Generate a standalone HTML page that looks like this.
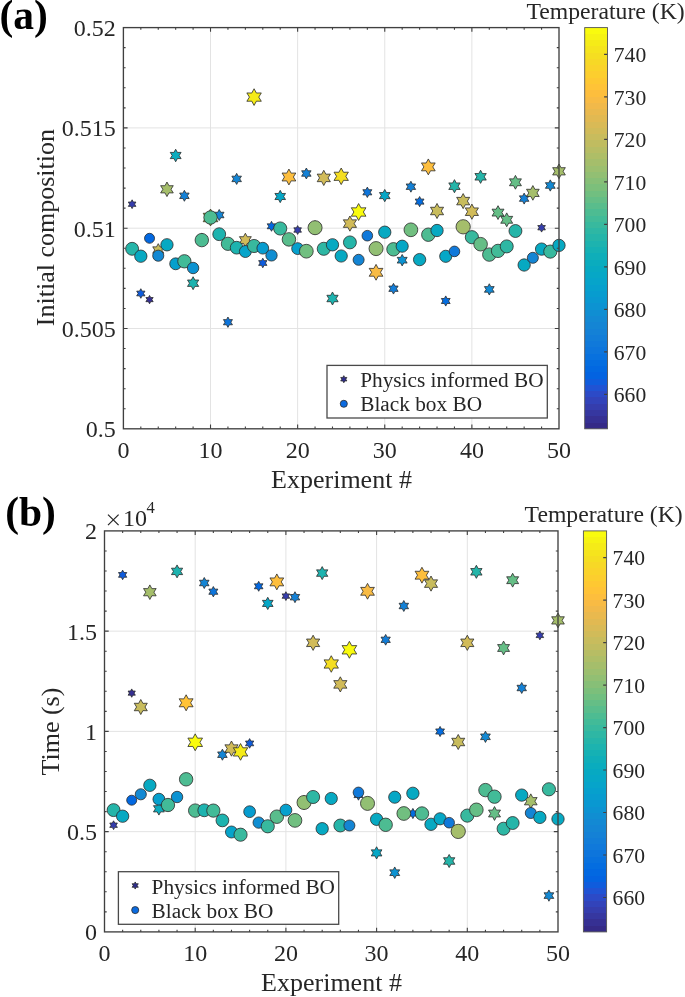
<!DOCTYPE html>
<html><head><meta charset="utf-8"><style>
html,body{margin:0;padding:0;background:#fff;}
svg{display:block;will-change:transform;font-family:"Liberation Serif",serif;fill:#262626;}
text{fill:#262626;}
.g{stroke:#e3e3e3;stroke-width:1;}
.ax{fill:none;stroke:#404040;stroke-width:1.35;}
.tk{fill:none;stroke:#404040;stroke-width:1.1;}
.cb{fill:none;stroke:#555;stroke-width:0.9;}
.lg{fill:#fff;stroke:#4a4a4a;stroke-width:1.3;}
path,circle{stroke:#2b2b2b;stroke-width:0.8;}
.tl{font-size:24px;}
.cl{font-size:21.6px;}
.lt{font-size:21.3px;}
.al{font-size:26px;}
.ct{font-size:23.7px;}
.pl{font-size:41.5px;font-weight:bold;fill:#000;}
</style></head><body>
<svg width="685" height="997" viewBox="0 0 685 997">
<line x1="210.52" y1="27.60" x2="210.52" y2="428.80" class="g"/>
<line x1="297.64" y1="27.60" x2="297.64" y2="428.80" class="g"/>
<line x1="384.76" y1="27.60" x2="384.76" y2="428.80" class="g"/>
<line x1="471.88" y1="27.60" x2="471.88" y2="428.80" class="g"/>
<line x1="123.40" y1="328.50" x2="559.00" y2="328.50" class="g"/>
<line x1="123.40" y1="228.20" x2="559.00" y2="228.20" class="g"/>
<line x1="123.40" y1="127.90" x2="559.00" y2="127.90" class="g"/>
<path d="M132.11 199.80 L133.34 202.07 L135.92 202.00 L134.58 204.20 L135.92 206.40 L133.34 206.33 L132.11 208.60 L130.88 206.33 L128.30 206.40 L129.65 204.20 L128.30 202.00 L130.88 202.07Z" fill="#353dad"/>
<path d="M140.82 288.71 L142.16 291.18 L144.97 291.11 L143.50 293.50 L144.97 295.89 L142.16 295.82 L140.82 298.29 L139.48 295.82 L136.68 295.89 L138.14 293.50 L136.68 291.11 L139.48 291.18Z" fill="#0f5cdd"/>
<path d="M149.54 295.41 L150.71 297.57 L153.17 297.50 L151.88 299.60 L153.17 301.70 L150.71 301.63 L149.54 303.79 L148.36 301.63 L145.90 301.70 L147.19 299.60 L145.90 297.50 L148.36 297.57Z" fill="#363093"/>
<path d="M158.25 243.65 L160.03 246.92 L163.75 246.82 L161.80 250.00 L163.75 253.18 L160.03 253.08 L158.25 256.35 L156.47 253.08 L152.75 253.18 L154.69 250.00 L152.75 246.82 L156.47 246.92Z" fill="#c8bc5d"/>
<path d="M166.96 182.01 L169.00 185.77 L173.27 185.66 L171.04 189.30 L173.27 192.94 L169.00 192.83 L166.96 196.59 L164.92 192.83 L160.65 192.94 L162.88 189.30 L160.65 185.66 L164.92 185.77Z" fill="#a5be6b"/>
<path d="M175.67 149.22 L177.43 152.45 L181.11 152.36 L179.19 155.50 L181.11 158.64 L177.43 158.55 L175.67 161.78 L173.91 158.55 L170.23 158.64 L172.15 155.50 L170.23 152.36 L173.91 152.45Z" fill="#0aacbe"/>
<path d="M184.38 190.32 L185.92 193.14 L189.13 193.06 L187.45 195.80 L189.13 198.54 L185.92 198.46 L184.38 201.28 L182.85 198.46 L179.64 198.54 L181.32 195.80 L179.64 193.06 L182.85 193.14Z" fill="#1481d6"/>
<path d="M193.10 276.73 L194.91 280.06 L198.70 279.97 L196.72 283.20 L198.70 286.43 L194.91 286.34 L193.10 289.67 L191.29 286.34 L187.50 286.43 L189.47 283.20 L187.50 279.97 L191.29 280.06Z" fill="#1db3af"/>
<path d="M201.81 233.15 L203.59 236.42 L207.31 236.32 L205.36 239.50 L207.31 242.68 L203.59 242.58 L201.81 245.85 L200.03 242.58 L196.31 242.68 L198.25 239.50 L196.31 236.32 L200.03 236.42Z" fill="#ffc337"/>
<path d="M210.52 209.05 L212.89 213.40 L217.84 213.27 L215.25 217.50 L217.84 221.73 L212.89 221.60 L210.52 225.95 L208.15 221.60 L203.20 221.73 L205.79 217.50 L203.20 213.27 L208.15 213.40Z" fill="#f9fb0e"/>
<path d="M219.23 209.47 L220.78 212.32 L224.02 212.23 L222.33 215.00 L224.02 217.77 L220.78 217.68 L219.23 220.53 L217.68 217.68 L214.44 217.77 L216.14 215.00 L214.44 212.23 L217.68 212.32Z" fill="#1485d4"/>
<path d="M227.94 317.00 L229.40 319.68 L232.45 319.60 L230.86 322.20 L232.45 324.80 L229.40 324.72 L227.94 327.40 L226.49 324.72 L223.44 324.80 L225.03 322.20 L223.44 319.60 L226.49 319.68Z" fill="#0d75dc"/>
<path d="M236.66 173.37 L238.20 176.22 L241.45 176.13 L239.75 178.90 L241.45 181.67 L238.20 181.58 L236.66 184.43 L235.11 181.58 L231.87 181.67 L233.56 178.90 L231.87 176.13 L235.11 176.22Z" fill="#1485d4"/>
<path d="M245.37 233.25 L247.29 236.78 L251.30 236.67 L249.20 240.10 L251.30 243.53 L247.29 243.42 L245.37 246.95 L243.45 243.42 L239.44 243.53 L241.53 240.10 L239.44 236.67 L243.45 236.78Z" fill="#d1bb59"/>
<path d="M254.08 88.75 L256.42 93.05 L261.31 92.93 L258.75 97.10 L261.31 101.27 L256.42 101.15 L254.08 105.45 L251.74 101.15 L246.85 101.27 L249.41 97.10 L246.85 92.93 L251.74 93.05Z" fill="#f5eb18"/>
<path d="M262.79 258.21 L264.13 260.68 L266.94 260.61 L265.47 263.00 L266.94 265.39 L264.13 265.32 L262.79 267.79 L261.45 265.32 L258.65 265.39 L260.11 263.00 L258.65 260.61 L261.45 260.68Z" fill="#0f5cdd"/>
<path d="M271.50 221.33 L272.89 223.89 L275.81 223.82 L274.29 226.30 L275.81 228.78 L272.89 228.71 L271.50 231.27 L270.11 228.71 L267.20 228.78 L268.72 226.30 L267.20 223.82 L270.11 223.89Z" fill="#0268e1"/>
<path d="M280.22 190.36 L281.93 193.52 L285.53 193.43 L283.65 196.50 L285.53 199.57 L281.93 199.48 L280.22 202.64 L278.50 199.48 L274.90 199.57 L276.78 196.50 L274.90 193.43 L278.50 193.52Z" fill="#06a7c6"/>
<path d="M288.93 169.05 L291.15 173.15 L295.81 173.03 L293.38 177.00 L295.81 180.97 L291.15 180.85 L288.93 184.95 L286.70 180.85 L282.05 180.97 L284.48 177.00 L282.05 173.03 L286.70 173.15Z" fill="#fdbe3d"/>
<path d="M297.64 225.60 L298.87 227.87 L301.45 227.80 L300.10 230.00 L301.45 232.20 L298.87 232.13 L297.64 234.40 L296.41 232.13 L293.83 232.20 L295.18 230.00 L293.83 227.80 L296.41 227.87Z" fill="#353dad"/>
<path d="M306.35 168.02 L307.89 170.84 L311.09 170.76 L309.42 173.50 L311.09 176.24 L307.89 176.16 L306.35 178.98 L304.82 176.16 L301.61 176.24 L303.29 173.50 L301.61 170.76 L304.82 170.84Z" fill="#1481d6"/>
<path d="M315.06 220.69 L317.00 224.25 L321.05 224.15 L318.93 227.60 L321.05 231.05 L317.00 230.95 L315.06 234.51 L313.13 230.95 L309.08 231.05 L311.19 227.60 L309.08 224.15 L313.13 224.25Z" fill="#65be86"/>
<path d="M323.78 170.30 L325.90 174.21 L330.36 174.10 L328.03 177.90 L330.36 181.70 L325.90 181.59 L323.78 185.50 L321.65 181.59 L317.19 181.70 L319.52 177.90 L317.19 174.10 L321.65 174.21Z" fill="#d1bb59"/>
<path d="M332.49 291.99 L334.31 295.34 L338.13 295.24 L336.14 298.50 L338.13 301.76 L334.31 301.66 L332.49 305.01 L330.66 301.66 L326.85 301.76 L328.84 298.50 L326.85 295.24 L330.66 295.34Z" fill="#1db3af"/>
<path d="M341.20 168.02 L343.52 172.29 L348.37 172.16 L345.83 176.30 L348.37 180.44 L343.52 180.31 L341.20 184.58 L338.88 180.31 L334.03 180.44 L336.57 176.30 L334.03 172.16 L338.88 172.29Z" fill="#f5de21"/>
<path d="M349.91 216.00 L352.04 219.91 L356.50 219.80 L354.17 223.60 L356.50 227.40 L352.04 227.29 L349.91 231.20 L347.78 227.29 L343.33 227.40 L345.65 223.60 L343.33 219.80 L347.78 219.91Z" fill="#d1bb59"/>
<path d="M358.62 203.55 L360.99 207.90 L365.94 207.77 L363.36 212.00 L365.94 216.23 L360.99 216.10 L358.62 220.45 L356.26 216.10 L351.30 216.23 L353.89 212.00 L351.30 207.77 L356.26 207.90Z" fill="#f9fb0e"/>
<path d="M367.34 187.10 L368.79 189.78 L371.84 189.70 L370.25 192.30 L371.84 194.90 L368.79 194.82 L367.34 197.50 L365.88 194.82 L362.83 194.90 L364.42 192.30 L362.83 189.70 L365.88 189.78Z" fill="#0d75dc"/>
<path d="M376.05 264.39 L378.26 268.46 L382.90 268.35 L380.48 272.30 L382.90 276.25 L378.26 276.14 L376.05 280.21 L373.83 276.14 L369.20 276.25 L371.62 272.30 L369.20 268.35 L373.83 268.46Z" fill="#f8bb44"/>
<path d="M384.76 189.46 L386.48 192.62 L390.08 192.53 L388.20 195.60 L390.08 198.67 L386.48 198.58 L384.76 201.74 L383.04 198.58 L379.44 198.67 L381.32 195.60 L379.44 192.53 L383.04 192.62Z" fill="#06a7c6"/>
<path d="M393.47 283.33 L394.97 286.10 L398.12 286.02 L396.48 288.70 L398.12 291.38 L394.97 291.30 L393.47 294.07 L391.97 291.30 L388.82 291.38 L390.47 288.70 L388.82 286.02 L391.97 286.10Z" fill="#127dd8"/>
<path d="M402.18 254.46 L403.79 257.42 L407.15 257.33 L405.40 260.20 L407.15 263.07 L403.79 262.98 L402.18 265.94 L400.58 262.98 L397.21 263.07 L398.97 260.20 L397.21 257.33 L400.58 257.42Z" fill="#0c93d2"/>
<path d="M410.90 181.22 L412.43 184.04 L415.64 183.96 L413.96 186.70 L415.64 189.44 L412.43 189.36 L410.90 192.18 L409.36 189.36 L406.15 189.44 L407.83 186.70 L406.15 183.96 L409.36 184.04Z" fill="#1481d6"/>
<path d="M419.61 196.52 L421.03 199.13 L424.01 199.06 L422.46 201.60 L424.01 204.14 L421.03 204.07 L419.61 206.68 L418.18 204.07 L415.20 204.14 L416.76 201.60 L415.20 199.06 L418.18 199.13Z" fill="#046de0"/>
<path d="M428.32 158.95 L430.55 163.05 L435.20 162.93 L432.77 166.90 L435.20 170.87 L430.55 170.75 L428.32 174.85 L426.09 170.75 L421.44 170.87 L423.87 166.90 L421.44 162.93 L426.09 163.05Z" fill="#fdbe3d"/>
<path d="M437.03 203.44 L439.15 207.33 L443.58 207.22 L441.27 211.00 L443.58 214.78 L439.15 214.67 L437.03 218.56 L434.91 214.67 L430.48 214.78 L432.80 211.00 L430.48 207.22 L434.91 207.33Z" fill="#c8bc5d"/>
<path d="M445.74 295.92 L447.17 298.53 L450.15 298.46 L448.59 301.00 L450.15 303.54 L447.17 303.47 L445.74 306.08 L444.32 303.47 L441.34 303.54 L442.90 301.00 L441.34 298.46 L444.32 298.53Z" fill="#046de0"/>
<path d="M454.46 179.64 L456.29 183.02 L460.14 182.92 L458.13 186.20 L460.14 189.48 L456.29 189.38 L454.46 192.76 L452.62 189.38 L448.78 189.48 L450.78 186.20 L448.78 182.92 L452.62 183.02Z" fill="#25b5a9"/>
<path d="M463.17 193.57 L465.28 197.45 L469.68 197.34 L467.38 201.10 L469.68 204.86 L465.28 204.75 L463.17 208.63 L461.06 204.75 L456.65 204.86 L458.95 201.10 L456.65 197.34 L461.06 197.45Z" fill="#c8bc5d"/>
<path d="M471.88 204.10 L474.01 208.01 L478.46 207.90 L476.14 211.70 L478.46 215.50 L474.01 215.39 L471.88 219.30 L469.75 215.39 L465.30 215.50 L467.62 211.70 L465.30 207.90 L469.75 208.01Z" fill="#d1bb59"/>
<path d="M480.59 170.24 L482.43 173.62 L486.27 173.52 L484.26 176.80 L486.27 180.08 L482.43 179.98 L480.59 183.36 L478.76 179.98 L474.91 180.08 L476.92 176.80 L474.91 173.52 L478.76 173.62Z" fill="#25b5a9"/>
<path d="M489.30 283.76 L490.88 286.67 L494.18 286.58 L492.46 289.40 L494.18 292.22 L490.88 292.13 L489.30 295.04 L487.73 292.13 L484.42 292.22 L486.15 289.40 L484.42 286.58 L487.73 286.67Z" fill="#1389d3"/>
<path d="M498.02 205.69 L499.95 209.25 L504.00 209.15 L501.89 212.60 L504.00 216.05 L499.95 215.95 L498.02 219.51 L496.08 215.95 L492.03 216.05 L494.15 212.60 L492.03 209.15 L496.08 209.25Z" fill="#65be86"/>
<path d="M506.73 212.89 L508.66 216.45 L512.71 216.35 L510.60 219.80 L512.71 223.25 L508.66 223.15 L506.73 226.71 L504.79 223.15 L500.74 223.25 L502.86 219.80 L500.74 216.35 L504.79 216.45Z" fill="#65be86"/>
<path d="M515.44 175.39 L517.37 178.95 L521.42 178.85 L519.31 182.30 L521.42 185.75 L517.37 185.65 L515.44 189.21 L513.51 185.65 L509.46 185.75 L511.57 182.30 L509.46 178.85 L513.51 178.95Z" fill="#65be86"/>
<path d="M524.15 193.12 L525.69 195.94 L528.89 195.86 L527.22 198.60 L528.89 201.34 L525.69 201.26 L524.15 204.08 L522.62 201.26 L519.41 201.34 L521.09 198.60 L519.41 195.86 L522.62 195.94Z" fill="#1481d6"/>
<path d="M532.86 185.57 L534.92 189.35 L539.21 189.24 L536.97 192.90 L539.21 196.56 L534.92 196.45 L532.86 200.23 L530.81 196.45 L526.52 196.56 L528.76 192.90 L526.52 189.24 L530.81 189.35Z" fill="#a5be6b"/>
<path d="M541.58 223.30 L542.81 225.57 L545.39 225.50 L544.04 227.70 L545.39 229.90 L542.81 229.83 L541.58 232.10 L540.34 229.83 L537.77 229.90 L539.11 227.70 L537.77 225.50 L540.34 225.57Z" fill="#353dad"/>
<path d="M550.29 179.86 L551.87 182.77 L555.17 182.68 L553.44 185.50 L555.17 188.32 L551.87 188.23 L550.29 191.14 L548.71 188.23 L545.41 188.32 L547.13 185.50 L545.41 182.68 L548.71 182.77Z" fill="#1389d3"/>
<path d="M559.00 163.97 L561.05 167.75 L565.34 167.64 L563.10 171.30 L565.34 174.96 L561.05 174.85 L559.00 178.63 L556.95 174.85 L552.66 174.96 L554.90 171.30 L552.66 167.64 L556.95 167.75Z" fill="#a5be6b"/>
<circle cx="132.11" cy="248.80" r="6.47" fill="#25b5a9"/>
<circle cx="140.82" cy="256.20" r="6.16" fill="#07a9c2"/>
<circle cx="149.54" cy="238.30" r="5.00" fill="#0268e1"/>
<circle cx="158.25" cy="255.70" r="5.56" fill="#1389d3"/>
<circle cx="166.96" cy="244.80" r="6.16" fill="#07a9c2"/>
<circle cx="175.67" cy="263.80" r="5.94" fill="#06a0cd"/>
<circle cx="184.38" cy="261.30" r="6.67" fill="#42bb98"/>
<circle cx="193.10" cy="268.00" r="5.71" fill="#0c93d2"/>
<circle cx="201.81" cy="240.10" r="6.72" fill="#4dbc92"/>
<circle cx="210.52" cy="217.50" r="6.72" fill="#4dbc92"/>
<circle cx="219.23" cy="234.20" r="6.42" fill="#1db3af"/>
<circle cx="227.94" cy="243.80" r="6.63" fill="#42bb98"/>
<circle cx="236.66" cy="247.70" r="6.38" fill="#1db3af"/>
<circle cx="245.37" cy="251.50" r="5.99" fill="#06a4ca"/>
<circle cx="254.08" cy="246.00" r="6.59" fill="#38b99e"/>
<circle cx="262.79" cy="248.20" r="5.89" fill="#079ccf"/>
<circle cx="271.50" cy="255.40" r="5.66" fill="#108ed2"/>
<circle cx="280.22" cy="228.50" r="6.59" fill="#38b99e"/>
<circle cx="288.93" cy="239.40" r="6.76" fill="#59bd8c"/>
<circle cx="297.64" cy="248.60" r="5.94" fill="#06a0cd"/>
<circle cx="306.35" cy="251.20" r="6.88" fill="#71bf80"/>
<circle cx="315.06" cy="227.70" r="7.03" fill="#92bf73"/>
<circle cx="323.78" cy="248.80" r="6.55" fill="#2eb7a4"/>
<circle cx="332.49" cy="244.80" r="6.16" fill="#07a9c2"/>
<circle cx="341.20" cy="256.00" r="6.12" fill="#07a9c2"/>
<circle cx="349.91" cy="242.40" r="6.47" fill="#25b5a9"/>
<circle cx="358.62" cy="259.80" r="5.51" fill="#1485d4"/>
<circle cx="367.34" cy="235.70" r="5.31" fill="#1079da"/>
<circle cx="376.05" cy="248.60" r="7.03" fill="#92bf73"/>
<circle cx="384.76" cy="232.20" r="6.16" fill="#07a9c2"/>
<circle cx="393.47" cy="249.30" r="6.72" fill="#4dbc92"/>
<circle cx="402.18" cy="246.20" r="6.08" fill="#06a7c6"/>
<circle cx="410.90" cy="229.80" r="6.88" fill="#71bf80"/>
<circle cx="419.61" cy="259.60" r="6.16" fill="#07a9c2"/>
<circle cx="428.32" cy="234.70" r="6.72" fill="#4dbc92"/>
<circle cx="437.03" cy="230.50" r="6.16" fill="#07a9c2"/>
<circle cx="445.74" cy="256.30" r="6.08" fill="#06a7c6"/>
<circle cx="454.46" cy="251.40" r="5.31" fill="#1079da"/>
<circle cx="463.17" cy="226.80" r="7.15" fill="#a5be6b"/>
<circle cx="471.88" cy="237.20" r="6.59" fill="#38b99e"/>
<circle cx="480.59" cy="244.20" r="6.80" fill="#65be86"/>
<circle cx="489.30" cy="254.60" r="6.72" fill="#4dbc92"/>
<circle cx="498.02" cy="250.90" r="6.67" fill="#42bb98"/>
<circle cx="506.73" cy="246.40" r="6.51" fill="#2eb7a4"/>
<circle cx="515.44" cy="231.00" r="6.47" fill="#25b5a9"/>
<circle cx="524.15" cy="265.00" r="6.16" fill="#07a9c2"/>
<circle cx="532.86" cy="257.80" r="5.51" fill="#1485d4"/>
<circle cx="541.58" cy="249.10" r="6.16" fill="#07a9c2"/>
<circle cx="550.29" cy="251.60" r="6.59" fill="#38b99e"/>
<circle cx="559.00" cy="245.40" r="6.16" fill="#07a9c2"/>
<path d="M140.82 428.80v-2.20 M140.82 27.60v2.20 M158.25 428.80v-2.20 M158.25 27.60v2.20 M175.67 428.80v-2.20 M175.67 27.60v2.20 M193.10 428.80v-2.20 M193.10 27.60v2.20 M210.52 428.80v-4.20 M210.52 27.60v4.20 M227.94 428.80v-2.20 M227.94 27.60v2.20 M245.37 428.80v-2.20 M245.37 27.60v2.20 M262.79 428.80v-2.20 M262.79 27.60v2.20 M280.22 428.80v-2.20 M280.22 27.60v2.20 M297.64 428.80v-4.20 M297.64 27.60v4.20 M315.06 428.80v-2.20 M315.06 27.60v2.20 M332.49 428.80v-2.20 M332.49 27.60v2.20 M349.91 428.80v-2.20 M349.91 27.60v2.20 M367.34 428.80v-2.20 M367.34 27.60v2.20 M384.76 428.80v-4.20 M384.76 27.60v4.20 M402.18 428.80v-2.20 M402.18 27.60v2.20 M419.61 428.80v-2.20 M419.61 27.60v2.20 M437.03 428.80v-2.20 M437.03 27.60v2.20 M454.46 428.80v-2.20 M454.46 27.60v2.20 M471.88 428.80v-4.20 M471.88 27.60v4.20 M489.30 428.80v-2.20 M489.30 27.60v2.20 M506.73 428.80v-2.20 M506.73 27.60v2.20 M524.15 428.80v-2.20 M524.15 27.60v2.20 M541.58 428.80v-2.20 M541.58 27.60v2.20 M123.40 408.74h2.20 M559.00 408.74h-2.20 M123.40 388.68h2.20 M559.00 388.68h-2.20 M123.40 368.62h2.20 M559.00 368.62h-2.20 M123.40 348.56h2.20 M559.00 348.56h-2.20 M123.40 328.50h4.20 M559.00 328.50h-4.20 M123.40 308.44h2.20 M559.00 308.44h-2.20 M123.40 288.38h2.20 M559.00 288.38h-2.20 M123.40 268.32h2.20 M559.00 268.32h-2.20 M123.40 248.26h2.20 M559.00 248.26h-2.20 M123.40 228.20h4.20 M559.00 228.20h-4.20 M123.40 208.14h2.20 M559.00 208.14h-2.20 M123.40 188.08h2.20 M559.00 188.08h-2.20 M123.40 168.02h2.20 M559.00 168.02h-2.20 M123.40 147.96h2.20 M559.00 147.96h-2.20 M123.40 127.90h4.20 M559.00 127.90h-4.20 M123.40 107.84h2.20 M559.00 107.84h-2.20 M123.40 87.78h2.20 M559.00 87.78h-2.20 M123.40 67.72h2.20 M559.00 67.72h-2.20 M123.40 47.66h2.20 M559.00 47.66h-2.20" class="tk"/>
<rect x="123.40" y="27.60" width="435.60" height="401.20" class="ax"/>
<text x="123.40" y="457.80" class="tl" text-anchor="middle">0</text>
<text x="210.52" y="457.80" class="tl" text-anchor="middle">10</text>
<text x="297.64" y="457.80" class="tl" text-anchor="middle">20</text>
<text x="384.76" y="457.80" class="tl" text-anchor="middle">30</text>
<text x="471.88" y="457.80" class="tl" text-anchor="middle">40</text>
<text x="559.00" y="457.80" class="tl" text-anchor="middle">50</text>
<text x="115.80" y="437.20" class="tl" text-anchor="end">0.5</text>
<text x="115.80" y="336.90" class="tl" text-anchor="end">0.505</text>
<text x="115.80" y="236.60" class="tl" text-anchor="end">0.51</text>
<text x="115.80" y="136.30" class="tl" text-anchor="end">0.515</text>
<text x="115.80" y="36.00" class="tl" text-anchor="end">0.52</text>
<line x1="195.20" y1="530.90" x2="195.20" y2="931.90" class="g"/>
<line x1="285.90" y1="530.90" x2="285.90" y2="931.90" class="g"/>
<line x1="376.60" y1="530.90" x2="376.60" y2="931.90" class="g"/>
<line x1="467.30" y1="530.90" x2="467.30" y2="931.90" class="g"/>
<line x1="104.50" y1="831.65" x2="558.00" y2="831.65" class="g"/>
<line x1="104.50" y1="731.40" x2="558.00" y2="731.40" class="g"/>
<line x1="104.50" y1="631.15" x2="558.00" y2="631.15" class="g"/>
<path d="M113.57 820.80 L114.80 823.07 L117.38 823.00 L116.03 825.20 L117.38 827.40 L114.80 827.33 L113.57 829.60 L112.34 827.33 L109.76 827.40 L111.11 825.20 L109.76 823.00 L112.34 823.07Z" fill="#353dad"/>
<path d="M122.64 570.11 L123.98 572.58 L126.78 572.51 L125.32 574.90 L126.78 577.29 L123.98 577.22 L122.64 579.69 L121.30 577.22 L118.50 577.29 L119.96 574.90 L118.50 572.51 L121.30 572.58Z" fill="#0f5cdd"/>
<path d="M131.71 688.91 L132.88 691.07 L135.34 691.00 L134.06 693.10 L135.34 695.20 L132.88 695.13 L131.71 697.29 L130.54 695.13 L128.08 695.20 L129.36 693.10 L128.08 691.00 L130.54 691.07Z" fill="#363093"/>
<path d="M140.78 699.47 L142.89 703.35 L147.30 703.24 L144.99 707.00 L147.30 710.76 L142.89 710.65 L140.78 714.53 L138.67 710.65 L134.26 710.76 L136.57 707.00 L134.26 703.24 L138.67 703.35Z" fill="#c8bc5d"/>
<path d="M149.85 584.91 L151.89 588.67 L156.16 588.56 L153.93 592.20 L156.16 595.84 L151.89 595.73 L149.85 599.49 L147.81 595.73 L143.54 595.84 L145.77 592.20 L143.54 588.56 L147.81 588.67Z" fill="#a5be6b"/>
<path d="M158.92 802.52 L160.68 805.75 L164.36 805.66 L162.44 808.80 L164.36 811.94 L160.68 811.85 L158.92 815.08 L157.16 811.85 L153.48 811.94 L155.40 808.80 L153.48 805.66 L157.16 805.75Z" fill="#0aacbe"/>
<path d="M167.99 799.52 L169.52 802.34 L172.73 802.26 L171.06 805.00 L172.73 807.74 L169.52 807.66 L167.99 810.48 L166.46 807.66 L163.25 807.74 L164.92 805.00 L163.25 802.26 L166.46 802.34Z" fill="#1481d6"/>
<path d="M177.06 564.93 L178.87 568.26 L182.66 568.17 L180.68 571.40 L182.66 574.63 L178.87 574.54 L177.06 577.87 L175.25 574.54 L171.46 574.63 L173.44 571.40 L171.46 568.17 L175.25 568.26Z" fill="#1db3af"/>
<path d="M186.13 694.78 L188.38 698.91 L193.08 698.79 L190.62 702.80 L193.08 706.81 L188.38 706.69 L186.13 710.82 L183.88 706.69 L179.18 706.81 L181.64 702.80 L179.18 698.79 L183.88 698.91Z" fill="#ffc337"/>
<path d="M195.20 733.85 L197.57 738.20 L202.52 738.07 L199.93 742.30 L202.52 746.53 L197.57 746.40 L195.20 750.75 L192.83 746.40 L187.88 746.53 L190.47 742.30 L187.88 738.07 L192.83 738.20Z" fill="#f9fb0e"/>
<path d="M204.27 577.47 L205.82 580.32 L209.06 580.23 L207.37 583.00 L209.06 585.77 L205.82 585.68 L204.27 588.53 L202.72 585.68 L199.48 585.77 L201.17 583.00 L199.48 580.23 L202.72 580.32Z" fill="#1485d4"/>
<path d="M213.34 586.50 L214.80 589.18 L217.84 589.10 L216.25 591.70 L217.84 594.30 L214.80 594.22 L213.34 596.90 L211.88 594.22 L208.84 594.30 L210.43 591.70 L208.84 589.10 L211.88 589.18Z" fill="#0d75dc"/>
<path d="M222.41 749.17 L223.96 752.02 L227.20 751.93 L225.51 754.70 L227.20 757.47 L223.96 757.38 L222.41 760.23 L220.86 757.38 L217.62 757.47 L219.31 754.70 L217.62 751.93 L220.86 752.02Z" fill="#1485d4"/>
<path d="M231.48 741.00 L233.61 744.91 L238.06 744.80 L235.74 748.60 L238.06 752.40 L233.61 752.29 L231.48 756.20 L229.35 752.29 L224.90 752.40 L227.22 748.60 L224.90 744.80 L229.35 744.91Z" fill="#d1bb59"/>
<path d="M240.55 743.55 L242.89 747.85 L247.78 747.73 L245.22 751.90 L247.78 756.07 L242.89 755.95 L240.55 760.25 L238.21 755.95 L233.32 756.07 L235.88 751.90 L233.32 747.73 L238.21 747.85Z" fill="#f5eb18"/>
<path d="M249.62 738.61 L250.96 741.08 L253.76 741.01 L252.30 743.40 L253.76 745.79 L250.96 745.72 L249.62 748.19 L248.28 745.72 L245.48 745.79 L246.94 743.40 L245.48 741.01 L248.28 741.08Z" fill="#0f5cdd"/>
<path d="M258.69 581.33 L260.08 583.89 L262.99 583.82 L261.47 586.30 L262.99 588.78 L260.08 588.71 L258.69 591.27 L257.30 588.71 L254.39 588.78 L255.91 586.30 L254.39 583.82 L257.30 583.89Z" fill="#0268e1"/>
<path d="M267.76 597.26 L269.48 600.42 L273.08 600.33 L271.20 603.40 L273.08 606.47 L269.48 606.38 L267.76 609.54 L266.04 606.38 L262.44 606.47 L264.32 603.40 L262.44 600.33 L266.04 600.42Z" fill="#06a7c6"/>
<path d="M276.83 573.95 L279.06 578.05 L283.71 577.93 L281.28 581.90 L283.71 585.87 L279.06 585.75 L276.83 589.85 L274.60 585.75 L269.95 585.87 L272.38 581.90 L269.95 577.93 L274.60 578.05Z" fill="#fdbe3d"/>
<path d="M285.90 591.70 L287.13 593.97 L289.71 593.90 L288.36 596.10 L289.71 598.30 L287.13 598.23 L285.90 600.50 L284.67 598.23 L282.09 598.30 L283.44 596.10 L282.09 593.90 L284.67 593.97Z" fill="#353dad"/>
<path d="M294.97 591.72 L296.50 594.54 L299.71 594.46 L298.04 597.20 L299.71 599.94 L296.50 599.86 L294.97 602.68 L293.44 599.86 L290.23 599.94 L291.90 597.20 L290.23 594.46 L293.44 594.54Z" fill="#1481d6"/>
<path d="M304.04 795.59 L305.97 799.15 L310.02 799.05 L307.91 802.50 L310.02 805.95 L305.97 805.85 L304.04 809.41 L302.11 805.85 L298.06 805.95 L300.17 802.50 L298.06 799.05 L302.11 799.15Z" fill="#65be86"/>
<path d="M313.11 635.20 L315.24 639.11 L319.69 639.00 L317.37 642.80 L319.69 646.60 L315.24 646.49 L313.11 650.40 L310.98 646.49 L306.53 646.60 L308.85 642.80 L306.53 639.00 L310.98 639.11Z" fill="#d1bb59"/>
<path d="M322.18 566.59 L324.00 569.94 L327.82 569.84 L325.83 573.10 L327.82 576.36 L324.00 576.26 L322.18 579.61 L320.36 576.26 L316.54 576.36 L318.53 573.10 L316.54 569.84 L320.36 569.94Z" fill="#1db3af"/>
<path d="M331.25 655.72 L333.57 659.99 L338.42 659.86 L335.88 664.00 L338.42 668.14 L333.57 668.01 L331.25 672.28 L328.93 668.01 L324.08 668.14 L326.62 664.00 L324.08 659.86 L328.93 659.99Z" fill="#f5de21"/>
<path d="M340.32 676.80 L342.45 680.71 L346.90 680.60 L344.58 684.40 L346.90 688.20 L342.45 688.09 L340.32 692.00 L338.19 688.09 L333.74 688.20 L336.06 684.40 L333.74 680.60 L338.19 680.71Z" fill="#d1bb59"/>
<path d="M349.39 641.35 L351.76 645.70 L356.71 645.57 L354.12 649.80 L356.71 654.03 L351.76 653.90 L349.39 658.25 L347.02 653.90 L342.07 654.03 L344.66 649.80 L342.07 645.57 L347.02 645.70Z" fill="#f9fb0e"/>
<path d="M358.46 789.80 L359.92 792.48 L362.96 792.40 L361.37 795.00 L362.96 797.60 L359.92 797.52 L358.46 800.20 L357.00 797.52 L353.96 797.60 L355.55 795.00 L353.96 792.40 L357.00 792.48Z" fill="#0d75dc"/>
<path d="M367.53 583.39 L369.74 587.46 L374.38 587.35 L371.96 591.30 L374.38 595.25 L369.74 595.14 L367.53 599.21 L365.32 595.14 L360.68 595.25 L363.10 591.30 L360.68 587.35 L365.32 587.46Z" fill="#f8bb44"/>
<path d="M376.60 846.76 L378.32 849.92 L381.92 849.83 L380.04 852.90 L381.92 855.97 L378.32 855.88 L376.60 859.04 L374.88 855.88 L371.28 855.97 L373.16 852.90 L371.28 849.83 L374.88 849.92Z" fill="#06a7c6"/>
<path d="M385.67 634.43 L387.17 637.20 L390.32 637.12 L388.68 639.80 L390.32 642.48 L387.17 642.40 L385.67 645.17 L384.17 642.40 L381.02 642.48 L382.66 639.80 L381.02 637.12 L384.17 637.20Z" fill="#127dd8"/>
<path d="M394.74 866.96 L396.35 869.92 L399.71 869.83 L397.95 872.70 L399.71 875.57 L396.35 875.48 L394.74 878.44 L393.13 875.48 L389.77 875.57 L391.53 872.70 L389.77 869.83 L393.13 869.92Z" fill="#0c93d2"/>
<path d="M403.81 600.52 L405.34 603.34 L408.55 603.26 L406.88 606.00 L408.55 608.74 L405.34 608.66 L403.81 611.48 L402.28 608.66 L399.07 608.74 L400.74 606.00 L399.07 603.26 L402.28 603.34Z" fill="#1481d6"/>
<path d="M412.88 808.42 L414.30 811.03 L417.28 810.96 L415.73 813.50 L417.28 816.04 L414.30 815.97 L412.88 818.58 L411.46 815.97 L408.48 816.04 L410.03 813.50 L408.48 810.96 L411.46 811.03Z" fill="#046de0"/>
<path d="M421.95 567.25 L424.18 571.35 L428.83 571.23 L426.40 575.20 L428.83 579.17 L424.18 579.05 L421.95 583.15 L419.72 579.05 L415.07 579.17 L417.50 575.20 L415.07 571.23 L419.72 571.35Z" fill="#fdbe3d"/>
<path d="M431.02 576.04 L433.14 579.93 L437.57 579.82 L435.26 583.60 L437.57 587.38 L433.14 587.27 L431.02 591.16 L428.90 587.27 L424.47 587.38 L426.78 583.60 L424.47 579.82 L428.90 579.93Z" fill="#c8bc5d"/>
<path d="M440.09 726.42 L441.51 729.03 L444.49 728.96 L442.94 731.50 L444.49 734.04 L441.51 733.97 L440.09 736.58 L438.67 733.97 L435.69 734.04 L437.24 731.50 L435.69 728.96 L438.67 729.03Z" fill="#046de0"/>
<path d="M449.16 854.44 L451.00 857.82 L454.84 857.72 L452.83 861.00 L454.84 864.28 L451.00 864.18 L449.16 867.56 L447.32 864.18 L443.48 864.28 L445.49 861.00 L443.48 857.72 L447.32 857.82Z" fill="#25b5a9"/>
<path d="M458.23 734.47 L460.34 738.35 L464.75 738.24 L462.44 742.00 L464.75 745.76 L460.34 745.65 L458.23 749.53 L456.12 745.65 L451.71 745.76 L454.02 742.00 L451.71 738.24 L456.12 738.35Z" fill="#c8bc5d"/>
<path d="M467.30 635.20 L469.43 639.11 L473.88 639.00 L471.56 642.80 L473.88 646.60 L469.43 646.49 L467.30 650.40 L465.17 646.49 L460.72 646.60 L463.04 642.80 L460.72 639.00 L465.17 639.11Z" fill="#d1bb59"/>
<path d="M476.37 565.24 L478.21 568.62 L482.05 568.52 L480.04 571.80 L482.05 575.08 L478.21 574.98 L476.37 578.36 L474.53 574.98 L470.69 575.08 L472.70 571.80 L470.69 568.52 L474.53 568.62Z" fill="#25b5a9"/>
<path d="M485.44 731.16 L487.02 734.07 L490.32 733.98 L488.60 736.80 L490.32 739.62 L487.02 739.53 L485.44 742.44 L483.86 739.53 L480.56 739.62 L482.28 736.80 L480.56 733.98 L483.86 734.07Z" fill="#1389d3"/>
<path d="M494.51 806.59 L496.44 810.15 L500.49 810.05 L498.38 813.50 L500.49 816.95 L496.44 816.85 L494.51 820.41 L492.58 816.85 L488.53 816.95 L490.64 813.50 L488.53 810.05 L492.58 810.15Z" fill="#65be86"/>
<path d="M503.58 641.09 L505.51 644.65 L509.56 644.55 L507.45 648.00 L509.56 651.45 L505.51 651.35 L503.58 654.91 L501.65 651.35 L497.60 651.45 L499.71 648.00 L497.60 644.55 L501.65 644.65Z" fill="#65be86"/>
<path d="M512.65 573.29 L514.58 576.85 L518.63 576.75 L516.52 580.20 L518.63 583.65 L514.58 583.55 L512.65 587.11 L510.72 583.55 L506.67 583.65 L508.78 580.20 L506.67 576.75 L510.72 576.85Z" fill="#65be86"/>
<path d="M521.72 682.52 L523.25 685.34 L526.46 685.26 L524.79 688.00 L526.46 690.74 L523.25 690.66 L521.72 693.48 L520.19 690.66 L516.98 690.74 L518.65 688.00 L516.98 685.26 L520.19 685.34Z" fill="#1481d6"/>
<path d="M530.79 793.87 L532.84 797.65 L537.13 797.54 L534.89 801.20 L537.13 804.86 L532.84 804.75 L530.79 808.53 L528.74 804.75 L524.45 804.86 L526.69 801.20 L524.45 797.54 L528.74 797.65Z" fill="#a5be6b"/>
<path d="M539.86 631.00 L541.09 633.27 L543.67 633.20 L542.32 635.40 L543.67 637.60 L541.09 637.53 L539.86 639.80 L538.63 637.53 L536.05 637.60 L537.40 635.40 L536.05 633.20 L538.63 633.27Z" fill="#353dad"/>
<path d="M548.93 889.96 L550.51 892.87 L553.81 892.78 L552.09 895.60 L553.81 898.42 L550.51 898.33 L548.93 901.24 L547.35 898.33 L544.05 898.42 L545.77 895.60 L544.05 892.78 L547.35 892.87Z" fill="#1389d3"/>
<path d="M558.00 613.07 L560.05 616.85 L564.34 616.74 L562.10 620.40 L564.34 624.06 L560.05 623.95 L558.00 627.73 L555.95 623.95 L551.66 624.06 L553.90 620.40 L551.66 616.74 L555.95 616.85Z" fill="#a5be6b"/>
<circle cx="113.57" cy="810.10" r="6.47" fill="#25b5a9"/>
<circle cx="122.64" cy="816.20" r="6.16" fill="#07a9c2"/>
<circle cx="131.71" cy="800.20" r="5.00" fill="#0268e1"/>
<circle cx="140.78" cy="794.30" r="5.56" fill="#1389d3"/>
<circle cx="149.85" cy="785.30" r="6.16" fill="#07a9c2"/>
<circle cx="158.92" cy="799.20" r="5.94" fill="#06a0cd"/>
<circle cx="167.99" cy="805.00" r="6.67" fill="#42bb98"/>
<circle cx="177.06" cy="797.00" r="5.71" fill="#0c93d2"/>
<circle cx="186.13" cy="779.30" r="6.72" fill="#4dbc92"/>
<circle cx="195.20" cy="810.60" r="6.72" fill="#4dbc92"/>
<circle cx="204.27" cy="810.30" r="6.42" fill="#1db3af"/>
<circle cx="213.34" cy="810.60" r="6.63" fill="#42bb98"/>
<circle cx="222.41" cy="820.40" r="6.38" fill="#1db3af"/>
<circle cx="231.48" cy="832.00" r="5.99" fill="#06a4ca"/>
<circle cx="240.55" cy="834.70" r="6.59" fill="#38b99e"/>
<circle cx="249.62" cy="811.70" r="5.89" fill="#079ccf"/>
<circle cx="258.69" cy="822.60" r="5.66" fill="#108ed2"/>
<circle cx="267.76" cy="826.30" r="6.59" fill="#38b99e"/>
<circle cx="276.83" cy="816.70" r="6.76" fill="#59bd8c"/>
<circle cx="285.90" cy="810.10" r="5.94" fill="#06a0cd"/>
<circle cx="294.97" cy="820.40" r="6.88" fill="#71bf80"/>
<circle cx="304.04" cy="802.50" r="7.03" fill="#92bf73"/>
<circle cx="313.11" cy="797.00" r="6.55" fill="#2eb7a4"/>
<circle cx="322.18" cy="828.70" r="6.16" fill="#07a9c2"/>
<circle cx="331.25" cy="798.50" r="6.12" fill="#07a9c2"/>
<circle cx="340.32" cy="825.50" r="6.47" fill="#25b5a9"/>
<circle cx="349.39" cy="825.50" r="5.51" fill="#1485d4"/>
<circle cx="358.46" cy="792.40" r="5.31" fill="#1079da"/>
<circle cx="367.53" cy="803.40" r="7.03" fill="#92bf73"/>
<circle cx="376.60" cy="819.30" r="6.16" fill="#07a9c2"/>
<circle cx="385.67" cy="824.80" r="6.72" fill="#4dbc92"/>
<circle cx="394.74" cy="797.20" r="6.08" fill="#06a7c6"/>
<circle cx="403.81" cy="813.50" r="6.88" fill="#71bf80"/>
<circle cx="412.88" cy="793.30" r="6.16" fill="#07a9c2"/>
<circle cx="421.95" cy="813.50" r="6.72" fill="#4dbc92"/>
<circle cx="431.02" cy="824.30" r="6.16" fill="#07a9c2"/>
<circle cx="440.09" cy="818.80" r="6.08" fill="#06a7c6"/>
<circle cx="449.16" cy="822.70" r="5.31" fill="#1079da"/>
<circle cx="458.23" cy="831.40" r="7.15" fill="#a5be6b"/>
<circle cx="467.30" cy="815.60" r="6.59" fill="#38b99e"/>
<circle cx="476.37" cy="809.80" r="6.80" fill="#65be86"/>
<circle cx="485.44" cy="790.10" r="6.72" fill="#4dbc92"/>
<circle cx="494.51" cy="796.70" r="6.67" fill="#42bb98"/>
<circle cx="503.58" cy="828.70" r="6.51" fill="#2eb7a4"/>
<circle cx="512.65" cy="823.00" r="6.47" fill="#25b5a9"/>
<circle cx="521.72" cy="795.10" r="6.16" fill="#07a9c2"/>
<circle cx="530.79" cy="813.00" r="5.51" fill="#1485d4"/>
<circle cx="539.86" cy="817.40" r="6.16" fill="#07a9c2"/>
<circle cx="548.93" cy="789.30" r="6.59" fill="#38b99e"/>
<circle cx="558.00" cy="819.00" r="6.16" fill="#07a9c2"/>
<path d="M122.64 931.90v-2.20 M122.64 530.90v2.20 M140.78 931.90v-2.20 M140.78 530.90v2.20 M158.92 931.90v-2.20 M158.92 530.90v2.20 M177.06 931.90v-2.20 M177.06 530.90v2.20 M195.20 931.90v-4.20 M195.20 530.90v4.20 M213.34 931.90v-2.20 M213.34 530.90v2.20 M231.48 931.90v-2.20 M231.48 530.90v2.20 M249.62 931.90v-2.20 M249.62 530.90v2.20 M267.76 931.90v-2.20 M267.76 530.90v2.20 M285.90 931.90v-4.20 M285.90 530.90v4.20 M304.04 931.90v-2.20 M304.04 530.90v2.20 M322.18 931.90v-2.20 M322.18 530.90v2.20 M340.32 931.90v-2.20 M340.32 530.90v2.20 M358.46 931.90v-2.20 M358.46 530.90v2.20 M376.60 931.90v-4.20 M376.60 530.90v4.20 M394.74 931.90v-2.20 M394.74 530.90v2.20 M412.88 931.90v-2.20 M412.88 530.90v2.20 M431.02 931.90v-2.20 M431.02 530.90v2.20 M449.16 931.90v-2.20 M449.16 530.90v2.20 M467.30 931.90v-4.20 M467.30 530.90v4.20 M485.44 931.90v-2.20 M485.44 530.90v2.20 M503.58 931.90v-2.20 M503.58 530.90v2.20 M521.72 931.90v-2.20 M521.72 530.90v2.20 M539.86 931.90v-2.20 M539.86 530.90v2.20 M104.50 911.85h2.20 M558.00 911.85h-2.20 M104.50 891.80h2.20 M558.00 891.80h-2.20 M104.50 871.75h2.20 M558.00 871.75h-2.20 M104.50 851.70h2.20 M558.00 851.70h-2.20 M104.50 831.65h4.20 M558.00 831.65h-4.20 M104.50 811.60h2.20 M558.00 811.60h-2.20 M104.50 791.55h2.20 M558.00 791.55h-2.20 M104.50 771.50h2.20 M558.00 771.50h-2.20 M104.50 751.45h2.20 M558.00 751.45h-2.20 M104.50 731.40h4.20 M558.00 731.40h-4.20 M104.50 711.35h2.20 M558.00 711.35h-2.20 M104.50 691.30h2.20 M558.00 691.30h-2.20 M104.50 671.25h2.20 M558.00 671.25h-2.20 M104.50 651.20h2.20 M558.00 651.20h-2.20 M104.50 631.15h4.20 M558.00 631.15h-4.20 M104.50 611.10h2.20 M558.00 611.10h-2.20 M104.50 591.05h2.20 M558.00 591.05h-2.20 M104.50 571.00h2.20 M558.00 571.00h-2.20 M104.50 550.95h2.20 M558.00 550.95h-2.20" class="tk"/>
<rect x="104.50" y="530.90" width="453.50" height="401.00" class="ax"/>
<text x="104.50" y="960.90" class="tl" text-anchor="middle">0</text>
<text x="195.20" y="960.90" class="tl" text-anchor="middle">10</text>
<text x="285.90" y="960.90" class="tl" text-anchor="middle">20</text>
<text x="376.60" y="960.90" class="tl" text-anchor="middle">30</text>
<text x="467.30" y="960.90" class="tl" text-anchor="middle">40</text>
<text x="558.00" y="960.90" class="tl" text-anchor="middle">50</text>
<text x="96.90" y="940.30" class="tl" text-anchor="end">0</text>
<text x="96.90" y="840.05" class="tl" text-anchor="end">0.5</text>
<text x="96.90" y="739.80" class="tl" text-anchor="end">1</text>
<text x="96.90" y="639.55" class="tl" text-anchor="end">1.5</text>
<text x="96.90" y="539.30" class="tl" text-anchor="end">2</text>
<defs><linearGradient id="cg584" x1="0" y1="1" x2="0" y2="0"><stop offset="0.00000" stop-color="#352a87"/><stop offset="0.01562" stop-color="#352a87"/><stop offset="0.01562" stop-color="#363093"/><stop offset="0.03125" stop-color="#363093"/><stop offset="0.03125" stop-color="#3637a0"/><stop offset="0.04688" stop-color="#3637a0"/><stop offset="0.04688" stop-color="#353dad"/><stop offset="0.06250" stop-color="#353dad"/><stop offset="0.06250" stop-color="#3243ba"/><stop offset="0.07812" stop-color="#3243ba"/><stop offset="0.07812" stop-color="#2c4ac7"/><stop offset="0.09375" stop-color="#2c4ac7"/><stop offset="0.09375" stop-color="#2053d4"/><stop offset="0.10938" stop-color="#2053d4"/><stop offset="0.10938" stop-color="#0f5cdd"/><stop offset="0.12500" stop-color="#0f5cdd"/><stop offset="0.12500" stop-color="#0363e1"/><stop offset="0.14062" stop-color="#0363e1"/><stop offset="0.14062" stop-color="#0268e1"/><stop offset="0.15625" stop-color="#0268e1"/><stop offset="0.15625" stop-color="#046de0"/><stop offset="0.17188" stop-color="#046de0"/><stop offset="0.17188" stop-color="#0871de"/><stop offset="0.18750" stop-color="#0871de"/><stop offset="0.18750" stop-color="#0d75dc"/><stop offset="0.20312" stop-color="#0d75dc"/><stop offset="0.20312" stop-color="#1079da"/><stop offset="0.21875" stop-color="#1079da"/><stop offset="0.21875" stop-color="#127dd8"/><stop offset="0.23438" stop-color="#127dd8"/><stop offset="0.23438" stop-color="#1481d6"/><stop offset="0.25000" stop-color="#1481d6"/><stop offset="0.25000" stop-color="#1485d4"/><stop offset="0.26562" stop-color="#1485d4"/><stop offset="0.26562" stop-color="#1389d3"/><stop offset="0.28125" stop-color="#1389d3"/><stop offset="0.28125" stop-color="#108ed2"/><stop offset="0.29688" stop-color="#108ed2"/><stop offset="0.29688" stop-color="#0c93d2"/><stop offset="0.31250" stop-color="#0c93d2"/><stop offset="0.31250" stop-color="#0998d1"/><stop offset="0.32812" stop-color="#0998d1"/><stop offset="0.32812" stop-color="#079ccf"/><stop offset="0.34375" stop-color="#079ccf"/><stop offset="0.34375" stop-color="#06a0cd"/><stop offset="0.35938" stop-color="#06a0cd"/><stop offset="0.35938" stop-color="#06a4ca"/><stop offset="0.37500" stop-color="#06a4ca"/><stop offset="0.37500" stop-color="#06a7c6"/><stop offset="0.39062" stop-color="#06a7c6"/><stop offset="0.39062" stop-color="#07a9c2"/><stop offset="0.40625" stop-color="#07a9c2"/><stop offset="0.40625" stop-color="#0aacbe"/><stop offset="0.42188" stop-color="#0aacbe"/><stop offset="0.42188" stop-color="#0faeb9"/><stop offset="0.43750" stop-color="#0faeb9"/><stop offset="0.43750" stop-color="#15b1b4"/><stop offset="0.45312" stop-color="#15b1b4"/><stop offset="0.45312" stop-color="#1db3af"/><stop offset="0.46875" stop-color="#1db3af"/><stop offset="0.46875" stop-color="#25b5a9"/><stop offset="0.48438" stop-color="#25b5a9"/><stop offset="0.48438" stop-color="#2eb7a4"/><stop offset="0.50000" stop-color="#2eb7a4"/><stop offset="0.50000" stop-color="#38b99e"/><stop offset="0.51562" stop-color="#38b99e"/><stop offset="0.51562" stop-color="#42bb98"/><stop offset="0.53125" stop-color="#42bb98"/><stop offset="0.53125" stop-color="#4dbc92"/><stop offset="0.54688" stop-color="#4dbc92"/><stop offset="0.54688" stop-color="#59bd8c"/><stop offset="0.56250" stop-color="#59bd8c"/><stop offset="0.56250" stop-color="#65be86"/><stop offset="0.57812" stop-color="#65be86"/><stop offset="0.57812" stop-color="#71bf80"/><stop offset="0.59375" stop-color="#71bf80"/><stop offset="0.59375" stop-color="#7cbf7b"/><stop offset="0.60938" stop-color="#7cbf7b"/><stop offset="0.60938" stop-color="#87bf77"/><stop offset="0.62500" stop-color="#87bf77"/><stop offset="0.62500" stop-color="#92bf73"/><stop offset="0.64062" stop-color="#92bf73"/><stop offset="0.64062" stop-color="#9cbf6f"/><stop offset="0.65625" stop-color="#9cbf6f"/><stop offset="0.65625" stop-color="#a5be6b"/><stop offset="0.67188" stop-color="#a5be6b"/><stop offset="0.67188" stop-color="#aebe67"/><stop offset="0.68750" stop-color="#aebe67"/><stop offset="0.68750" stop-color="#b7bd64"/><stop offset="0.70312" stop-color="#b7bd64"/><stop offset="0.70312" stop-color="#c0bc60"/><stop offset="0.71875" stop-color="#c0bc60"/><stop offset="0.71875" stop-color="#c8bc5d"/><stop offset="0.73438" stop-color="#c8bc5d"/><stop offset="0.73438" stop-color="#d1bb59"/><stop offset="0.75000" stop-color="#d1bb59"/><stop offset="0.75000" stop-color="#d9ba56"/><stop offset="0.76562" stop-color="#d9ba56"/><stop offset="0.76562" stop-color="#e1b952"/><stop offset="0.78125" stop-color="#e1b952"/><stop offset="0.78125" stop-color="#e9b94e"/><stop offset="0.79688" stop-color="#e9b94e"/><stop offset="0.79688" stop-color="#f1b94a"/><stop offset="0.81250" stop-color="#f1b94a"/><stop offset="0.81250" stop-color="#f8bb44"/><stop offset="0.82812" stop-color="#f8bb44"/><stop offset="0.82812" stop-color="#fdbe3d"/><stop offset="0.84375" stop-color="#fdbe3d"/><stop offset="0.84375" stop-color="#ffc337"/><stop offset="0.85938" stop-color="#ffc337"/><stop offset="0.85938" stop-color="#fec832"/><stop offset="0.87500" stop-color="#fec832"/><stop offset="0.87500" stop-color="#fcce2e"/><stop offset="0.89062" stop-color="#fcce2e"/><stop offset="0.89062" stop-color="#fad32a"/><stop offset="0.90625" stop-color="#fad32a"/><stop offset="0.90625" stop-color="#f7d826"/><stop offset="0.92188" stop-color="#f7d826"/><stop offset="0.92188" stop-color="#f5de21"/><stop offset="0.93750" stop-color="#f5de21"/><stop offset="0.93750" stop-color="#f5e41d"/><stop offset="0.95312" stop-color="#f5e41d"/><stop offset="0.95312" stop-color="#f5eb18"/><stop offset="0.96875" stop-color="#f5eb18"/><stop offset="0.96875" stop-color="#f6f313"/><stop offset="0.98438" stop-color="#f6f313"/><stop offset="0.98438" stop-color="#f9fb0e"/><stop offset="1.00000" stop-color="#f9fb0e"/></linearGradient></defs>
<rect x="584.70" y="27.60" width="22.80" height="401.20" fill="url(#cg584)" style="stroke:none"/>
<text x="613.80" y="402.07" class="cl">660</text>
<text x="613.80" y="359.57" class="cl">670</text>
<text x="613.80" y="317.07" class="cl">680</text>
<text x="613.80" y="274.57" class="cl">690</text>
<text x="613.80" y="232.07" class="cl">700</text>
<text x="613.80" y="189.57" class="cl">710</text>
<text x="613.80" y="147.07" class="cl">720</text>
<text x="613.80" y="104.57" class="cl">730</text>
<text x="613.80" y="62.07" class="cl">740</text>
<path d="M607.50 394.37h-3.4 M607.50 351.87h-3.4 M607.50 309.37h-3.4 M607.50 266.87h-3.4 M607.50 224.37h-3.4 M607.50 181.87h-3.4 M607.50 139.37h-3.4 M607.50 96.87h-3.4 M607.50 54.37h-3.4" class="tk"/>
<rect x="584.70" y="27.60" width="22.80" height="401.20" class="cb"/>
<defs><linearGradient id="cg583" x1="0" y1="1" x2="0" y2="0"><stop offset="0.00000" stop-color="#352a87"/><stop offset="0.01562" stop-color="#352a87"/><stop offset="0.01562" stop-color="#363093"/><stop offset="0.03125" stop-color="#363093"/><stop offset="0.03125" stop-color="#3637a0"/><stop offset="0.04688" stop-color="#3637a0"/><stop offset="0.04688" stop-color="#353dad"/><stop offset="0.06250" stop-color="#353dad"/><stop offset="0.06250" stop-color="#3243ba"/><stop offset="0.07812" stop-color="#3243ba"/><stop offset="0.07812" stop-color="#2c4ac7"/><stop offset="0.09375" stop-color="#2c4ac7"/><stop offset="0.09375" stop-color="#2053d4"/><stop offset="0.10938" stop-color="#2053d4"/><stop offset="0.10938" stop-color="#0f5cdd"/><stop offset="0.12500" stop-color="#0f5cdd"/><stop offset="0.12500" stop-color="#0363e1"/><stop offset="0.14062" stop-color="#0363e1"/><stop offset="0.14062" stop-color="#0268e1"/><stop offset="0.15625" stop-color="#0268e1"/><stop offset="0.15625" stop-color="#046de0"/><stop offset="0.17188" stop-color="#046de0"/><stop offset="0.17188" stop-color="#0871de"/><stop offset="0.18750" stop-color="#0871de"/><stop offset="0.18750" stop-color="#0d75dc"/><stop offset="0.20312" stop-color="#0d75dc"/><stop offset="0.20312" stop-color="#1079da"/><stop offset="0.21875" stop-color="#1079da"/><stop offset="0.21875" stop-color="#127dd8"/><stop offset="0.23438" stop-color="#127dd8"/><stop offset="0.23438" stop-color="#1481d6"/><stop offset="0.25000" stop-color="#1481d6"/><stop offset="0.25000" stop-color="#1485d4"/><stop offset="0.26562" stop-color="#1485d4"/><stop offset="0.26562" stop-color="#1389d3"/><stop offset="0.28125" stop-color="#1389d3"/><stop offset="0.28125" stop-color="#108ed2"/><stop offset="0.29688" stop-color="#108ed2"/><stop offset="0.29688" stop-color="#0c93d2"/><stop offset="0.31250" stop-color="#0c93d2"/><stop offset="0.31250" stop-color="#0998d1"/><stop offset="0.32812" stop-color="#0998d1"/><stop offset="0.32812" stop-color="#079ccf"/><stop offset="0.34375" stop-color="#079ccf"/><stop offset="0.34375" stop-color="#06a0cd"/><stop offset="0.35938" stop-color="#06a0cd"/><stop offset="0.35938" stop-color="#06a4ca"/><stop offset="0.37500" stop-color="#06a4ca"/><stop offset="0.37500" stop-color="#06a7c6"/><stop offset="0.39062" stop-color="#06a7c6"/><stop offset="0.39062" stop-color="#07a9c2"/><stop offset="0.40625" stop-color="#07a9c2"/><stop offset="0.40625" stop-color="#0aacbe"/><stop offset="0.42188" stop-color="#0aacbe"/><stop offset="0.42188" stop-color="#0faeb9"/><stop offset="0.43750" stop-color="#0faeb9"/><stop offset="0.43750" stop-color="#15b1b4"/><stop offset="0.45312" stop-color="#15b1b4"/><stop offset="0.45312" stop-color="#1db3af"/><stop offset="0.46875" stop-color="#1db3af"/><stop offset="0.46875" stop-color="#25b5a9"/><stop offset="0.48438" stop-color="#25b5a9"/><stop offset="0.48438" stop-color="#2eb7a4"/><stop offset="0.50000" stop-color="#2eb7a4"/><stop offset="0.50000" stop-color="#38b99e"/><stop offset="0.51562" stop-color="#38b99e"/><stop offset="0.51562" stop-color="#42bb98"/><stop offset="0.53125" stop-color="#42bb98"/><stop offset="0.53125" stop-color="#4dbc92"/><stop offset="0.54688" stop-color="#4dbc92"/><stop offset="0.54688" stop-color="#59bd8c"/><stop offset="0.56250" stop-color="#59bd8c"/><stop offset="0.56250" stop-color="#65be86"/><stop offset="0.57812" stop-color="#65be86"/><stop offset="0.57812" stop-color="#71bf80"/><stop offset="0.59375" stop-color="#71bf80"/><stop offset="0.59375" stop-color="#7cbf7b"/><stop offset="0.60938" stop-color="#7cbf7b"/><stop offset="0.60938" stop-color="#87bf77"/><stop offset="0.62500" stop-color="#87bf77"/><stop offset="0.62500" stop-color="#92bf73"/><stop offset="0.64062" stop-color="#92bf73"/><stop offset="0.64062" stop-color="#9cbf6f"/><stop offset="0.65625" stop-color="#9cbf6f"/><stop offset="0.65625" stop-color="#a5be6b"/><stop offset="0.67188" stop-color="#a5be6b"/><stop offset="0.67188" stop-color="#aebe67"/><stop offset="0.68750" stop-color="#aebe67"/><stop offset="0.68750" stop-color="#b7bd64"/><stop offset="0.70312" stop-color="#b7bd64"/><stop offset="0.70312" stop-color="#c0bc60"/><stop offset="0.71875" stop-color="#c0bc60"/><stop offset="0.71875" stop-color="#c8bc5d"/><stop offset="0.73438" stop-color="#c8bc5d"/><stop offset="0.73438" stop-color="#d1bb59"/><stop offset="0.75000" stop-color="#d1bb59"/><stop offset="0.75000" stop-color="#d9ba56"/><stop offset="0.76562" stop-color="#d9ba56"/><stop offset="0.76562" stop-color="#e1b952"/><stop offset="0.78125" stop-color="#e1b952"/><stop offset="0.78125" stop-color="#e9b94e"/><stop offset="0.79688" stop-color="#e9b94e"/><stop offset="0.79688" stop-color="#f1b94a"/><stop offset="0.81250" stop-color="#f1b94a"/><stop offset="0.81250" stop-color="#f8bb44"/><stop offset="0.82812" stop-color="#f8bb44"/><stop offset="0.82812" stop-color="#fdbe3d"/><stop offset="0.84375" stop-color="#fdbe3d"/><stop offset="0.84375" stop-color="#ffc337"/><stop offset="0.85938" stop-color="#ffc337"/><stop offset="0.85938" stop-color="#fec832"/><stop offset="0.87500" stop-color="#fec832"/><stop offset="0.87500" stop-color="#fcce2e"/><stop offset="0.89062" stop-color="#fcce2e"/><stop offset="0.89062" stop-color="#fad32a"/><stop offset="0.90625" stop-color="#fad32a"/><stop offset="0.90625" stop-color="#f7d826"/><stop offset="0.92188" stop-color="#f7d826"/><stop offset="0.92188" stop-color="#f5de21"/><stop offset="0.93750" stop-color="#f5de21"/><stop offset="0.93750" stop-color="#f5e41d"/><stop offset="0.95312" stop-color="#f5e41d"/><stop offset="0.95312" stop-color="#f5eb18"/><stop offset="0.96875" stop-color="#f5eb18"/><stop offset="0.96875" stop-color="#f6f313"/><stop offset="0.98438" stop-color="#f6f313"/><stop offset="0.98438" stop-color="#f9fb0e"/><stop offset="1.00000" stop-color="#f9fb0e"/></linearGradient></defs>
<rect x="583.40" y="530.90" width="23.20" height="401.00" fill="url(#cg583)" style="stroke:none"/>
<text x="612.60" y="905.19" class="cl">660</text>
<text x="612.60" y="862.71" class="cl">670</text>
<text x="612.60" y="820.23" class="cl">680</text>
<text x="612.60" y="777.76" class="cl">690</text>
<text x="612.60" y="735.28" class="cl">700</text>
<text x="612.60" y="692.80" class="cl">710</text>
<text x="612.60" y="650.32" class="cl">720</text>
<text x="612.60" y="607.84" class="cl">730</text>
<text x="612.60" y="565.36" class="cl">740</text>
<path d="M606.60 897.49h-3.4 M606.60 855.01h-3.4 M606.60 812.53h-3.4 M606.60 770.06h-3.4 M606.60 727.58h-3.4 M606.60 685.10h-3.4 M606.60 642.62h-3.4 M606.60 600.14h-3.4 M606.60 557.66h-3.4" class="tk"/>
<rect x="583.40" y="530.90" width="23.20" height="401.00" class="cb"/>
<rect x="327.00" y="365.40" width="220.3" height="52.6" class="lg"/>
<path d="M343.80 375.65 L344.79 377.48 L346.87 377.43 L345.79 379.20 L346.87 380.97 L344.79 380.92 L343.80 382.75 L342.81 380.92 L340.73 380.97 L341.81 379.20 L340.73 377.43 L342.81 377.48Z" fill="#2f2e8c"/>
<circle cx="343.80" cy="403.80" r="3.55" fill="#0b6be0"/>
<text x="360.20" y="387.20" class="lt">Physics informed BO</text>
<text x="360.20" y="411.40" class="lt">Black box BO</text>
<rect x="118.40" y="871.70" width="220.3" height="52.6" class="lg"/>
<path d="M135.20 881.95 L136.19 883.78 L138.27 883.73 L137.19 885.50 L138.27 887.27 L136.19 887.22 L135.20 889.05 L134.21 887.22 L132.13 887.27 L133.21 885.50 L132.13 883.73 L134.21 883.78Z" fill="#2f2e8c"/>
<circle cx="135.20" cy="910.10" r="3.55" fill="#0b6be0"/>
<text x="151.60" y="893.50" class="lt">Physics informed BO</text>
<text x="151.60" y="917.70" class="lt">Black box BO</text>
<text x="341.5" y="487.7" class="al" text-anchor="middle">Experiment #</text>
<text x="331.5" y="991.1" class="al" text-anchor="middle">Experiment #</text>
<text transform="translate(53.7 227.6) rotate(-90)" class="al" text-anchor="middle">Initial composition</text>
<text transform="translate(59.2 731.6) rotate(-90)" class="al" text-anchor="middle">Time (s)</text>
<text x="526.5" y="19.3" class="ct">Temperature (K)</text>
<text x="524.6" y="521.8" class="ct">Temperature (K)</text>
<text x="-0.5" y="28.6" class="pl">(a)</text>
<text x="5.2" y="525.8" class="pl">(b)</text>
<path d="M108.0 514.6L118.6 525.1M118.6 514.6L108.0 525.1" style="stroke:#262626;stroke-width:1.25;fill:none"/>
<text x="123.1" y="525.5" class="tl">10</text>
<text x="146.6" y="513.4" style="font-size:16.6px">4</text>
</svg></body></html>
